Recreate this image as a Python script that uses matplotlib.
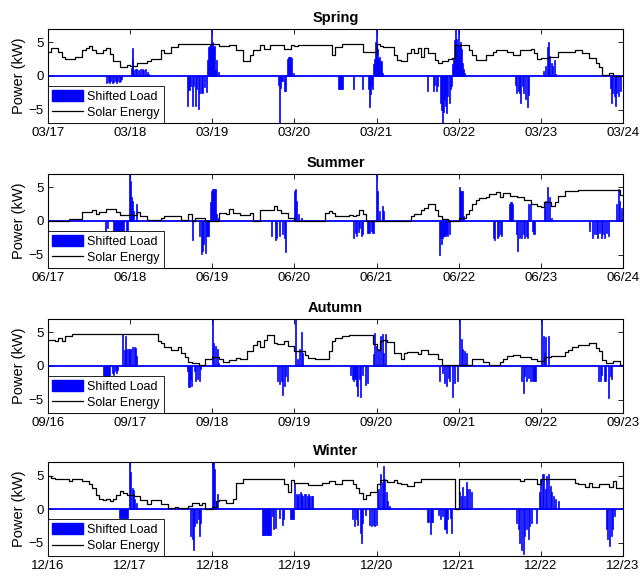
import numpy as np
import matplotlib
matplotlib.use('Agg')
import matplotlib.pyplot as plt
from matplotlib.patches import Patch
from matplotlib.lines import Line2D

plt.rcParams['font.family'] = ['Liberation Sans', 'DejaVu Sans']

# ---- data (hourly solar, kW) ----
spring_solar = [
    3.6, 4.1, 4.1, 3.5, 2.8, 2.5, 2.5, 2.5, 2.9, 2.9, 3.8, 4.1, 4.4, 3.9, 3.4, 3.4, 3.8, 4.1, 3.3, 2.3, 2.3, 1.3, 1.3, 1.6,
    1.5, 1.5, 1.9, 1.9, 1.9, 2.2, 2.6, 2.6, 2.6, 3.8, 3.4, 3.4, 4.3, 4.3, 4.7, 4.7, 4.7, 4.7, 4.7, 4.7, 4.7, 4.7, 4.7, 4.7,
    4.7, 4.7, 4.4, 4.4, 4.4, 4.6, 4.6, 3.8, 3.8, 2.2, 2.2, 3.1, 3.8, 3.8, 4.6, 4.0, 4.0, 4.6, 4.6, 4.6, 4.6, 4.0, 4.0, 4.6,
    4.4, 4.6, 4.6, 4.6, 4.6, 4.6, 4.6, 4.6, 4.6, 4.6, 4.6, 3.1, 4.3, 4.3, 4.7, 4.7, 4.7, 4.7, 4.7, 4.7, 3.6, 3.6, 3.5, 3.5,
    4.7, 4.5, 4.3, 4.3, 4.3, 3.1, 2.4, 2.2, 2.2, 3.4, 4.0, 3.4, 4.1, 2.9, 4.1, 3.4, 3.4, 2.4, 1.9, 2.2, 2.2, 2.5, 2.7, 4.6,
    4.6, 4.6, 4.6, 3.9, 3.1, 2.4, 2.4, 2.4, 3.1, 3.1, 3.6, 3.8, 3.8, 3.8, 3.6, 3.6, 3.1, 3.1, 3.8, 3.8, 3.8, 4.0, 3.4, 2.6,
    2.7, 2.7, 2.9, 2.9, 2.9, 3.5, 3.5, 3.5, 3.5, 3.5, 3.8, 3.8, 3.4, 3.4, 2.7, 2.7, 1.9, 1.4, 0.1, 0.1, 0.5, 0.0, 0.0, 0.0,
]
summer_solar = [
    0.0, 0.0, 0.0, 0.0, 0.0, 0.0, 0.3, 0.3, 0.3, 0.3, 1.3, 1.3, 1.3, 1.6, 1.0, 1.4, 1.4, 1.8, 1.8, 1.8, 1.4, 0.9, 0.9, 0.9,
    0.9, 0.9, 1.3, 0.8, 0.8, 0.1, 0.1, 0.1, 0.1, 0.4, 0.8, 0.8, 0.8, 0.8, 0.8, 0.1, 0.1, 1.0, 0.0, 0.4, 0.4, 0.4, 0.0, 0.0,
    0.0, 0.0, 1.2, 1.2, 1.1, 1.8, 1.2, 1.2, 0.9, 0.9, 0.9, 1.2, 0.0, 0.0, 1.6, 1.6, 1.6, 1.6, 2.2, 1.6, 1.2, 1.2, 0.4, 0.4,
    0.0, 0.0, 0.0, 0.0, 0.0, 0.0, 0.0, 0.0, 0.0, 1.2, 1.5, 1.2, 0.7, 0.7, 0.7, 0.7, 0.9, 0.7, 0.9, 1.7, 1.0, 0.0, 0.0, 0.0,
    0.0, 0.0, 0.0, 0.0, 0.0, 0.0, 0.0, 0.0, 0.0, 0.0, 0.7, 1.0, 1.0, 1.6, 2.0, 2.5, 2.5, 1.6, 0.7, 0.3, 0.3, 0.0, 0.0, 0.0,
    0.5, 0.5, 1.1, 1.6, 2.5, 3.1, 3.4, 3.4, 3.5, 4.0, 4.0, 4.3, 3.5, 4.2, 4.2, 3.7, 3.7, 3.6, 3.6, 3.2, 3.2, 2.5, 2.5, 2.2,
    2.1, 2.9, 2.9, 2.2, 2.9, 3.7, 3.7, 4.5, 4.5, 4.4, 4.4, 4.6, 4.6, 4.6, 4.6, 4.6, 4.6, 4.6, 4.6, 4.6, 4.6, 4.6, 4.6, 3.8,
]
autumn_solar = [
    3.9, 3.9, 3.7, 4.1, 3.7, 4.5, 4.5, 4.7, 4.7, 4.8, 4.8, 4.8, 4.8, 4.8, 4.8, 4.8, 4.8, 4.8, 4.8, 4.8, 4.8, 4.8, 4.8, 4.8,
    4.8, 4.8, 4.8, 4.8, 4.8, 4.8, 4.8, 4.8, 3.7, 3.4, 2.8, 2.8, 2.4, 2.4, 2.9, 2.0, 1.4, 0.6, 0.4, 0.4, 0.1, 0.1, 1.1, 1.0,
    1.4, 1.4, 1.0, 0.6, 0.6, 0.9, 0.9, 1.2, 1.0, 1.0, 2.2, 2.2, 3.1, 3.7, 2.9, 3.9, 4.6, 4.6, 3.4, 3.3, 3.3, 3.7, 3.0, 3.0,
    2.2, 2.2, 2.2, 1.7, 1.2, 1.2, 1.0, 1.0, 1.0, 1.0, 2.2, 3.7, 4.2, 4.2, 4.5, 4.5, 4.6, 4.6, 4.6, 4.6, 4.6, 4.6, 4.6, 3.3,
    2.4, 3.7, 3.8, 3.5, 3.5, 2.0, 2.0, 1.0, 2.0, 2.1, 2.1, 2.1, 1.8, 2.4, 2.4, 1.8, 1.8, 1.8, 1.0, 0.1, 0.1, 0.1, 0.1, 0.1,
    0.1, 0.1, 0.1, 0.1, 1.0, 1.0, 1.0, 0.6, 0.6, 0.1, 0.1, 0.1, 0.6, 1.0, 1.5, 1.5, 1.7, 1.7, 1.3, 1.3, 1.3, 1.0, 1.0, 0.8,
    0.8, 1.3, 1.3, 1.5, 1.5, 1.5, 1.5, 2.1, 2.4, 2.9, 2.9, 3.1, 3.1, 3.1, 3.4, 3.4, 2.7, 2.2, 0.9, 0.4, 0.4, 0.8, 0.8, 0.1,
]
winter_solar = [
    4.9, 4.7, 4.55, 4.55, 4.55, 4.55, 4.2, 4.55, 4.55, 4.55, 4.2, 4.2, 3.8, 3.1, 2.1, 1.6, 1.4, 1.6, 1.2, 1.6, 2.1, 2.7, 2.4, 2.1,
    2.1, 1.9, 1.9, 1.4, 1.4, 0.8, 1.4, 1.4, 1.4, 0.8, 0.8, 0.2, 0.2, 0.4, 0.2, 0.2, 0.2, 0.5, 0.9, 0.9, 0.7, 1.0, 0.0, 0.0,
    0.4, 1.2, 1.4, 1.4, 1.0, 1.0, 1.5, 3.9, 3.9, 4.55, 4.55, 4.55, 4.55, 4.55, 4.55, 4.55, 4.55, 4.55, 4.55, 4.55, 4.55, 3.8, 2.6, 4.3,
    3.9, 3.9, 3.9, 3.9, 3.6, 3.6, 3.6, 3.6, 3.9, 3.9, 4.2, 4.2, 3.8, 3.8, 4.3, 4.3, 4.3, 3.8, 3.1, 2.4, 1.6, 2.1, 2.6, 2.6,
    3.8, 4.3, 4.3, 4.0, 4.0, 4.3, 3.9, 3.8, 3.8, 3.5, 3.5, 4.0, 4.0, 4.55, 4.55, 4.55, 4.55, 4.55, 4.55, 4.55, 4.55, 4.55, 4.55, 0.0,
    4.55, 4.55, 4.55, 4.55, 4.55, 4.55, 4.55, 4.55, 4.55, 4.55, 4.55, 4.55, 4.55, 4.55, 4.55, 4.55, 4.55, 4.55, 4.2, 4.55, 4.55, 4.55, 4.55, 3.7,
    4.55, 4.55, 4.55, 4.55, 4.55, 4.55, 4.55, 4.55, 4.55, 4.55, 3.9, 3.8, 3.8, 3.3, 3.9, 3.3, 3.3, 3.8, 3.8, 3.8, 3.3, 4.2, 3.1, 3.1,
]

# ---- shifted load events: hour from start of week, kW ----
spring_load_t = [17.2, 17.6, 18.0, 18.4, 18.8, 19.2, 19.6, 20.0, 20.4, 20.8, 21.2, 21.6,
                 24.3, 24.6, 24.8, 25.1, 25.5, 26.0, 26.5, 27.0, 27.5, 28.0, 28.5, 29.0, 29.5,
                 40.8, 41.2, 41.6, 42.2, 42.6, 43.0, 43.4, 44.0, 44.4, 45.0, 45.6, 46.2,
                 46.7, 47.0, 47.3, 47.6, 47.9, 48.2, 48.5, 48.9, 49.3, 49.7,
                 67.4, 67.7, 68.0, 68.3, 68.6, 69.0, 69.3,
                 70.0, 70.3, 70.6, 70.9, 71.2, 71.6,
                 85.0, 85.25, 85.5, 85.75, 86.0, 89.2, 92.0, 93.6, 93.9, 94.2, 94.6, 94.9,
                 95.1, 95.4, 95.7, 96.0, 96.3, 96.6, 96.9, 97.3, 97.8,
                 110.8, 112.6, 113.0, 113.4, 113.8, 114.6, 115.0, 115.3, 115.6, 115.9, 116.2, 116.5, 116.8, 117.2, 117.6, 118.0,
                 118.2, 118.5, 118.8, 119.1, 119.4, 119.7, 120.0, 120.3, 120.6, 120.9, 121.2, 121.5, 121.8,
                 136.6, 137.0, 137.4, 137.8, 138.1, 138.6, 139.0, 139.5, 140.0, 140.3,
                 144.8, 145.4, 145.9, 146.2, 146.5, 147.0, 147.4, 148.0, 148.4,
                 164.3, 164.6, 165.0, 165.4, 165.7, 166.1, 166.8, 167.3]
spring_load_v = [-1.1, -0.9, -1.0, -0.8, -1.0, -0.9, -0.8, -1.0, -0.8, -0.9, -0.7, -0.5,
                 1.2, 2.6, 4.1, 0.9, 1.0, 1.0, 0.9, 1.0, 1.0, 0.9, 1.0, 0.6, 0.3,
                 -4.4, -2.1, -1.5, -4.5, -1.5, -4.5, -2.0, -4.9, -2.5, -2.5, -1.7, -2.4,
                 2.4, 4.3, 4.5, 4.7, 7.0, 5.0, 4.4, 0.9, 2.4, 0.6,
                 -1.3, -7.0, -1.8, -0.7, -0.8, -2.2, -2.2,
                 2.6, 2.8, 2.8, 2.8, 2.7, 0.5,
                 -2.0, -2.0, -2.0, -2.0, -2.0, -2.0, -2.0, -2.0, -4.6, -2.7, -1.5, -2.0,
                 1.8, 2.6, 5.0, 7.0, 4.0, 2.6, 2.8, 2.3, 0.5,
                 -2.2, -2.2, -1.4, -2.2, -1.5, -4.0, -5.0, -7.0, -5.4, -3.5, -4.5, -5.5, -3.0, -4.0, -2.0, -1.5,
                 1.8, 2.5, 5.4, 7.0, 5.5, 4.5, 7.0, 4.5, 5.0, 4.0, 2.0, 1.0, 0.4,
                 -1.3, -2.5, -2.2, -2.5, -4.0, -1.5, -2.5, -3.5, -4.6, -2.8,
                 0.8, 1.5, 4.3, 5.0, 3.0, 2.0, 1.5, 2.4, 0.3,
                 -1.8, -4.0, -2.5, -3.0, -4.4, -2.5, -3.0, -2.2]

summer_load_t = [16.9, 17.5, 19.2, 19.5, 19.8, 20.1, 20.4, 20.7, 21.0, 21.3, 21.6, 21.9, 22.2, 22.8, 23.3,
                 23.9, 24.2, 24.5, 24.8, 25.1, 26.0,
                 42.3, 44.2, 44.8, 45.1, 45.5, 46.1, 46.4, 46.7, 47.0,
                 47.5, 47.9, 48.2, 48.5, 48.8, 49.2, 49.7,
                 65.4, 66.4, 66.9, 67.6, 68.6, 69.0, 69.5,
                 72.0, 72.3, 72.7, 73.2, 74.0,
                 89.3, 89.8, 90.2, 90.8, 91.1, 91.5, 91.9, 93.3, 93.7, 94.0, 94.4, 94.8, 95.2,
                 96.1, 96.4, 96.8, 97.6, 98.1,
                 114.3, 114.6, 115.0, 115.3, 115.6, 116.0, 116.4, 116.8, 117.2,
                 120.1, 120.4, 120.7, 121.0, 121.4,
                 130.2, 130.6, 131.2, 131.6, 132.2, 132.6,
                 134.9, 135.2, 135.5, 135.8,
                 137.0, 137.3, 137.8, 138.3, 138.8, 139.3, 139.8, 140.2, 141.5, 142.0,
                 140.5, 140.9,
                 145.0, 145.5, 146.0, 146.4, 147.0,
                 158.2, 159.2, 159.6, 160.2, 160.6, 161.1, 161.6, 162.1, 162.6, 163.2, 163.7,
                 166.2, 166.6, 167.1, 167.6]
summer_load_v = [-1.5, -1.0, -1.5, -1.5, -1.5, -1.5, -1.5, -1.5, -1.5, -1.5, -1.5, -1.5, -1.5, -1.5, -1.5,
                 7.0, 6.0, 3.5, 3.0, 1.5, 2.5,
                 -2.8, -2.3, -4.9, -4.5, -3.5, -4.8, -2.3, -2.3, -2.3,
                 2.8, 4.5, 4.8, 4.8, 4.8, 1.0, 0.5,
                 -2.3, -2.8, -2.5, -2.3, -2.0, -2.5, -4.6,
                 4.5, 4.8, 3.0, 1.0, 0.4,
                 -2.5, -1.8, -2.3, -1.7, -1.0, -2.3, -2.0, -1.8, -1.8, -1.8, -1.5, -1.8, -1.8,
                 7.0, 4.5, 1.5, 2.3, 1.5,
                 -5.0, -2.5, -3.5, -2.5, -2.3, -2.3, -2.0, -2.3, -2.0,
                 5.0, 4.5, 4.5, 4.5, 0.8,
                 -2.5, -2.8, -2.5, -2.3, -2.0, -2.3,
                 2.5, 2.8, 2.8, 2.6,
                 -2.0, -4.4, -2.5, -2.5, -2.0, -2.5, -2.3, -2.5, -1.5, -2.0,
                 2.5, 2.5,
                 2.0, 3.0, 5.0, 3.5, 0.5,
                 -1.5, -2.5, -2.0, -2.0, -2.5, -1.8, -2.5, -2.0, -2.5, -1.8, -2.3,
                 2.5, 4.7, 3.0, 2.0]

autumn_load_t = [16.2, 16.5, 16.8, 17.1, 17.4, 17.7, 18.0, 18.8, 19.2, 19.6, 20.0, 20.3,
                 21.9, 22.3, 22.6, 23.0, 23.4, 23.8, 24.2, 24.8, 25.2, 25.6, 26.0,
                 40.7, 41.2, 41.6, 42.0, 42.7, 43.2, 43.7, 44.2, 44.6,
                 48.0, 48.4, 48.9, 49.4, 49.8,
                 67.1, 67.6, 68.1, 68.5, 69.0, 69.5, 70.0,
                 72.2, 72.8, 73.4, 74.0, 74.4,
                 88.5, 88.9, 89.3, 89.7, 90.2, 90.5, 90.9, 91.4, 91.9, 92.8, 93.3,
                 95.0, 95.5, 96.0, 96.6, 97.1, 97.6, 98.1, 98.6,
                 114.4, 115.4, 115.9, 116.4, 116.9, 117.4, 118.2, 118.9, 119.6,
                 120.2, 120.7, 121.2, 121.7, 122.2,
                 138.3, 138.8, 139.3, 139.8, 140.3, 141.0, 141.5, 142.0, 142.5,
                 144.3, 144.7, 145.1, 145.5, 146.1,
                 160.8, 161.3, 161.8, 162.5, 162.8, 163.8, 164.3, 164.6]
autumn_load_v = [-1.5, -1.5, -1.5, -1.5, -1.5, -1.5, -1.3, -1.0, -1.3, -0.8, -1.0, -0.6,
                 4.8, 2.4, 4.5, 2.5, 2.5, 2.5, 2.5, 2.8, 2.8, 2.7, 1.5,
                 -0.8, -3.1, -2.0, -3.0, -0.8, -2.3, -2.0, -2.3, -0.5,
                 7.0, 3.4, 3.0, 2.5, 0.5,
                 -2.2, -2.7, -2.3, -4.3, -3.0, -1.5, -2.3,
                 7.0, 1.0, 2.5, 5.0, 2.0,
                 -1.3, -2.0, -2.2, -2.0, -3.0, -4.4, -2.0, -4.6, -1.3, -2.9, -2.5,
                 1.8, 4.9, 3.0, 2.5, 4.5, 4.8, 2.0, 4.7,
                 -2.2, -1.0, -2.5, -3.0, -1.8, -2.3, -4.6, -2.5, -2.3,
                 7.0, 4.0, 2.5, 2.3, 2.0,
                 -2.3, -4.1, -1.5, -2.3, -1.8, -2.3, -2.3, -2.3, -2.3,
                 7.0, 4.5, 2.0, 4.3, 4.5,
                 -2.3, -2.3, -1.3, -2.3, -2.3, -4.7, -1.5, -2.0]

winter_load_t = [21.0, 21.3, 21.6, 21.9, 22.2, 22.5, 22.8, 23.1,
                 23.9, 24.2, 24.6, 25.0, 25.3, 25.8,
                 41.6, 42.1, 42.4, 42.9, 43.4, 43.9, 44.2, 44.7,
                 48.0, 48.3, 48.6, 49.1, 49.6,
                 62.8, 63.1, 63.4, 63.7, 64.0, 64.3, 64.6, 64.9,
                 65.6, 66.0, 66.6, 67.5, 68.4, 68.9, 70.8, 71.1, 71.4, 71.7,
                 72.1, 72.5, 72.9, 73.3, 73.7, 74.1, 74.5, 74.9, 75.3, 75.7, 76.1, 76.5, 76.9, 77.3,
                 89.0, 89.5, 90.0, 90.5, 91.2, 91.6, 92.0, 92.7, 94.0, 94.5, 95.0, 95.5, 96.0,
                 96.2, 96.7, 97.2, 97.6, 97.9, 98.3, 98.9, 99.3, 99.9,
                 111.0, 111.3, 111.7, 112.0, 112.4,
                 114.2, 114.8, 115.4, 116.0, 116.3, 116.8, 117.5, 118.0,
                 120.3, 120.7, 121.2, 121.7, 122.2, 122.6, 123.2, 123.6,
                 136.9, 137.4, 137.9, 138.4, 138.8, 139.3, 139.8, 140.3, 140.8, 141.3, 142.8,
                 143.5, 143.9, 144.4, 144.9, 145.3, 145.7, 146.2, 146.7, 147.2, 147.6, 148.4, 149.1,
                 163.2, 163.6, 164.1, 164.6, 165.0, 165.4]
winter_load_v = [-1.3, -1.3, -1.3, -1.3, -1.3, -1.3, -1.3, -1.3,
                 7.0, 5.5, 3.1, 2.8, 1.5, 1.0,
                 -4.0, -4.5, -6.0, -2.5, -2.0, -1.5, -4.0, -2.0,
                 7.0, 7.0, 6.0, 1.0, 2.2,
                 -3.8, -3.8, -3.8, -3.8, -3.8, -3.8, -3.8, -3.8,
                 -1.0, -3.0, -2.8, -1.3, -2.3, -1.5, -1.5, -1.5, -1.5, -1.5,
                 3.9, 2.2, 2.0, 2.3, 2.5, 2.2, 2.0, 2.2, 2.2, 2.0, 2.2, 2.0, 2.0, 2.0,
                 -1.5, -2.5, -1.5, -2.3, -3.5, -5.0, -2.0, -0.8, -2.3, -2.5, -2.3, -2.5, -2.3,
                 2.4, 3.0, 5.3, 4.0, 6.4, 4.5, 2.5, 1.2, 0.5,
                 -1.9, -1.9, -3.7, -1.9, -1.9,
                 -0.8, -1.5, -1.0, -3.0, -3.5, -1.5, -1.3, -3.5,
                 2.5, 2.0, 3.3, 2.0, 4.0, 3.0, 3.0, 2.5,
                 -2.0, -3.0, -5.0, -6.0, -6.7, -4.0, -3.0, -4.5, -2.5, -2.0, -2.0,
                 2.5, 4.5, 5.2, 5.2, 3.0, 5.0, 5.3, 3.5, 2.5, 2.0, 1.5, 1.3,
                 -3.0, -4.5, -5.5, -4.0, -3.0, -1.0]

titles = ['Spring', 'Summer', 'Autumn', 'Winter']
spring_dates = ['03/17', '03/18', '03/19', '03/20', '03/21', '03/22', '03/23', '03/24']
summer_dates = ['06/17', '06/18', '06/19', '06/20', '06/21', '06/22', '06/23', '06/24']
autumn_dates = ['09/16', '09/17', '09/18', '09/19', '09/20', '09/21', '09/22', '09/23']
winter_dates = ['12/16', '12/17', '12/18', '12/19', '12/20', '12/21', '12/22', '12/23']

panels = [
    (spring_solar, spring_load_t, spring_load_v, spring_dates),
    (summer_solar, summer_load_t, summer_load_v, summer_dates),
    (autumn_solar, autumn_load_t, autumn_load_v, autumn_dates),
    (winter_solar, winter_load_t, winter_load_v, winter_dates),
]

fig = plt.figure(figsize=(6.4, 5.8), dpi=100)
bottoms = [0.788, 0.538, 0.288, 0.041]

for title, y0, (solar, lt, lv, dates) in zip(titles, bottoms, panels):
    ax = fig.add_axes([0.075, y0, 0.8984, 0.162])
    hours = np.arange(len(solar) + 1)
    ax.bar(lt, lv, width=0.3, color='blue', edgecolor='blue', linewidth=0.5, zorder=2)
    ax.axhline(0, color='blue', lw=1.3, zorder=2.5)
    ax.plot(hours, solar + [solar[-1]], drawstyle='steps-post', color='black', lw=0.9, zorder=3)

    ax.set_xlim(0, 168)
    ax.set_ylim(-7, 7)
    ax.set_xticks(np.arange(0, 169, 24))
    ax.set_xticklabels(dates)
    ax.set_yticks([-5, 0, 5])
    ax.tick_params(direction='in', top=True, right=True, length=3.5, width=0.6, labelsize=9.5, pad=3)
    for sp in ax.spines.values():
        sp.set_linewidth(0.8)
    ax.set_title(title, fontweight='bold', fontsize=10.5, pad=5)
    ax.set_ylabel('Power (kW)', fontsize=10.5, labelpad=2)

    handles = [Patch(facecolor='blue', edgecolor='blue'), Line2D([], [], color='black', lw=0.9)]
    leg = ax.legend(handles, ['Shifted Load', 'Solar Energy'], loc='lower left', borderaxespad=0,
                    fancybox=False, edgecolor='black', framealpha=1, fontsize=9,
                    handlelength=2.5, handleheight=1.0, handletextpad=0.35,
                    labelspacing=0.3, borderpad=0.3)
    leg.get_frame().set_linewidth(0.6)
    leg.set_zorder(5)

fig.savefig('out.png', dpi=100)
